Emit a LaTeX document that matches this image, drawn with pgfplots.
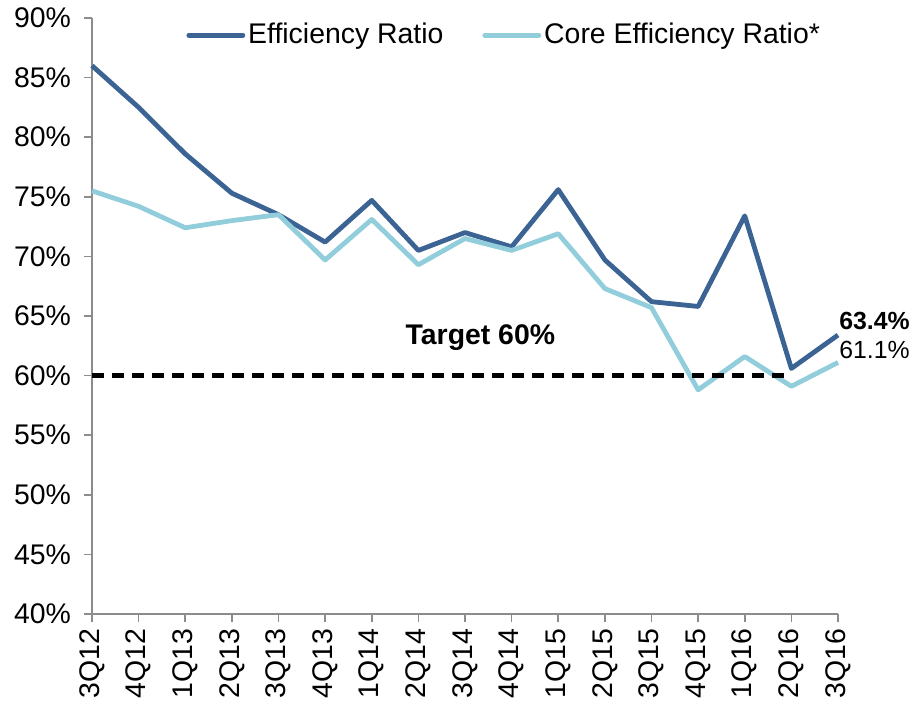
\documentclass[border=0pt]{standalone}
\usepackage{pgfplots}
\pgfplotsset{compat=1.18}
\usepackage{fontspec}
\setmainfont{Liberation Sans}
\definecolor{effblue}{HTML}{3B6494}
\definecolor{coreblue}{HTML}{92CDDC}
\newcommand{\fs}{\fontsize{14.2}{16}\selectfont}
\newcommand{\fss}{\fontsize{12.4}{14}\selectfont}
\begin{document}
\begin{tikzpicture}
\useasboundingbox (0,0) rectangle (456pt,352pt);
\begin{axis}[
  at={(46pt,45pt)}, anchor=south west,
  scale only axis, width=373pt, height=298pt,
  xmin=0, xmax=16, ymin=40, ymax=90,
  xtick={0,...,16},
  xticklabels={3Q12,4Q12,1Q13,2Q13,3Q13,4Q13,1Q14,2Q14,3Q14,4Q14,1Q15,2Q15,3Q15,4Q15,1Q16,2Q16,3Q16},
  ytick={40,45,...,90},
  yticklabels={40\%,45\%,50\%,55\%,60\%,65\%,70\%,75\%,80\%,85\%,90\%},
  x tick label style={rotate=90, anchor=east, font=\fs},
  y tick label style={font=\fs, xshift=-3pt},
  axis x line*=bottom, axis y line*=left,
  axis line style={draw=gray!90, line width=0.8pt, -},
  tick style={draw=gray!90, line width=0.8pt},
  tick align=outside, major tick length=4pt,
  clip=false,
  legend style={at={(0.118,1.005)}, anchor=north west, draw=none, fill=none,
    font=\fs, /tikz/every even column/.append style={column sep=18pt},
    nodes={inner xsep=1.5pt}},
  legend columns=2,
  legend image code/.code={\draw[#1, line cap=round] (0pt,0pt) -- (27pt,0pt);},
]
\addplot[color=effblue, line width=2.4pt, line join=round] coordinates {
(0,86.0) (1,82.5) (2,78.6) (3,75.3) (4,73.5) (5,71.2) (6,74.7) (7,70.5) (8,72.0) (9,70.8) (10,75.6) (11,69.7) (12,66.2) (13,65.8) (14,73.4) (15,60.6) (16,63.4)};
\addlegendentry{Efficiency Ratio}
\addplot[color=coreblue, line width=2.4pt, line join=round] coordinates {
(0,75.5) (1,74.2) (2,72.4) (3,73.0) (4,73.5) (5,69.7) (6,73.1) (7,69.3) (8,71.5) (9,70.5) (10,71.9) (11,67.3) (12,65.7) (13,58.8) (14,61.6) (15,59.1) (16,61.1)};
\addlegendentry{Core Efficiency Ratio*}
\addplot[black, line width=2.2pt, dash pattern=on 6pt off 4pt, forget plot] coordinates {(0,60) (15,60)};
\node[font=\fs\bfseries] at (axis cs:8.33,63.2) {Target 60\%};
\node[font=\fss\bfseries, anchor=south west, inner sep=0.5pt] at (axis cs:16,63.7) {63.4\%};
\node[font=\fss, anchor=south west, inner sep=0.5pt] at (axis cs:16,61.3) {61.1\%};
\end{axis}
\end{tikzpicture}
\end{document}
